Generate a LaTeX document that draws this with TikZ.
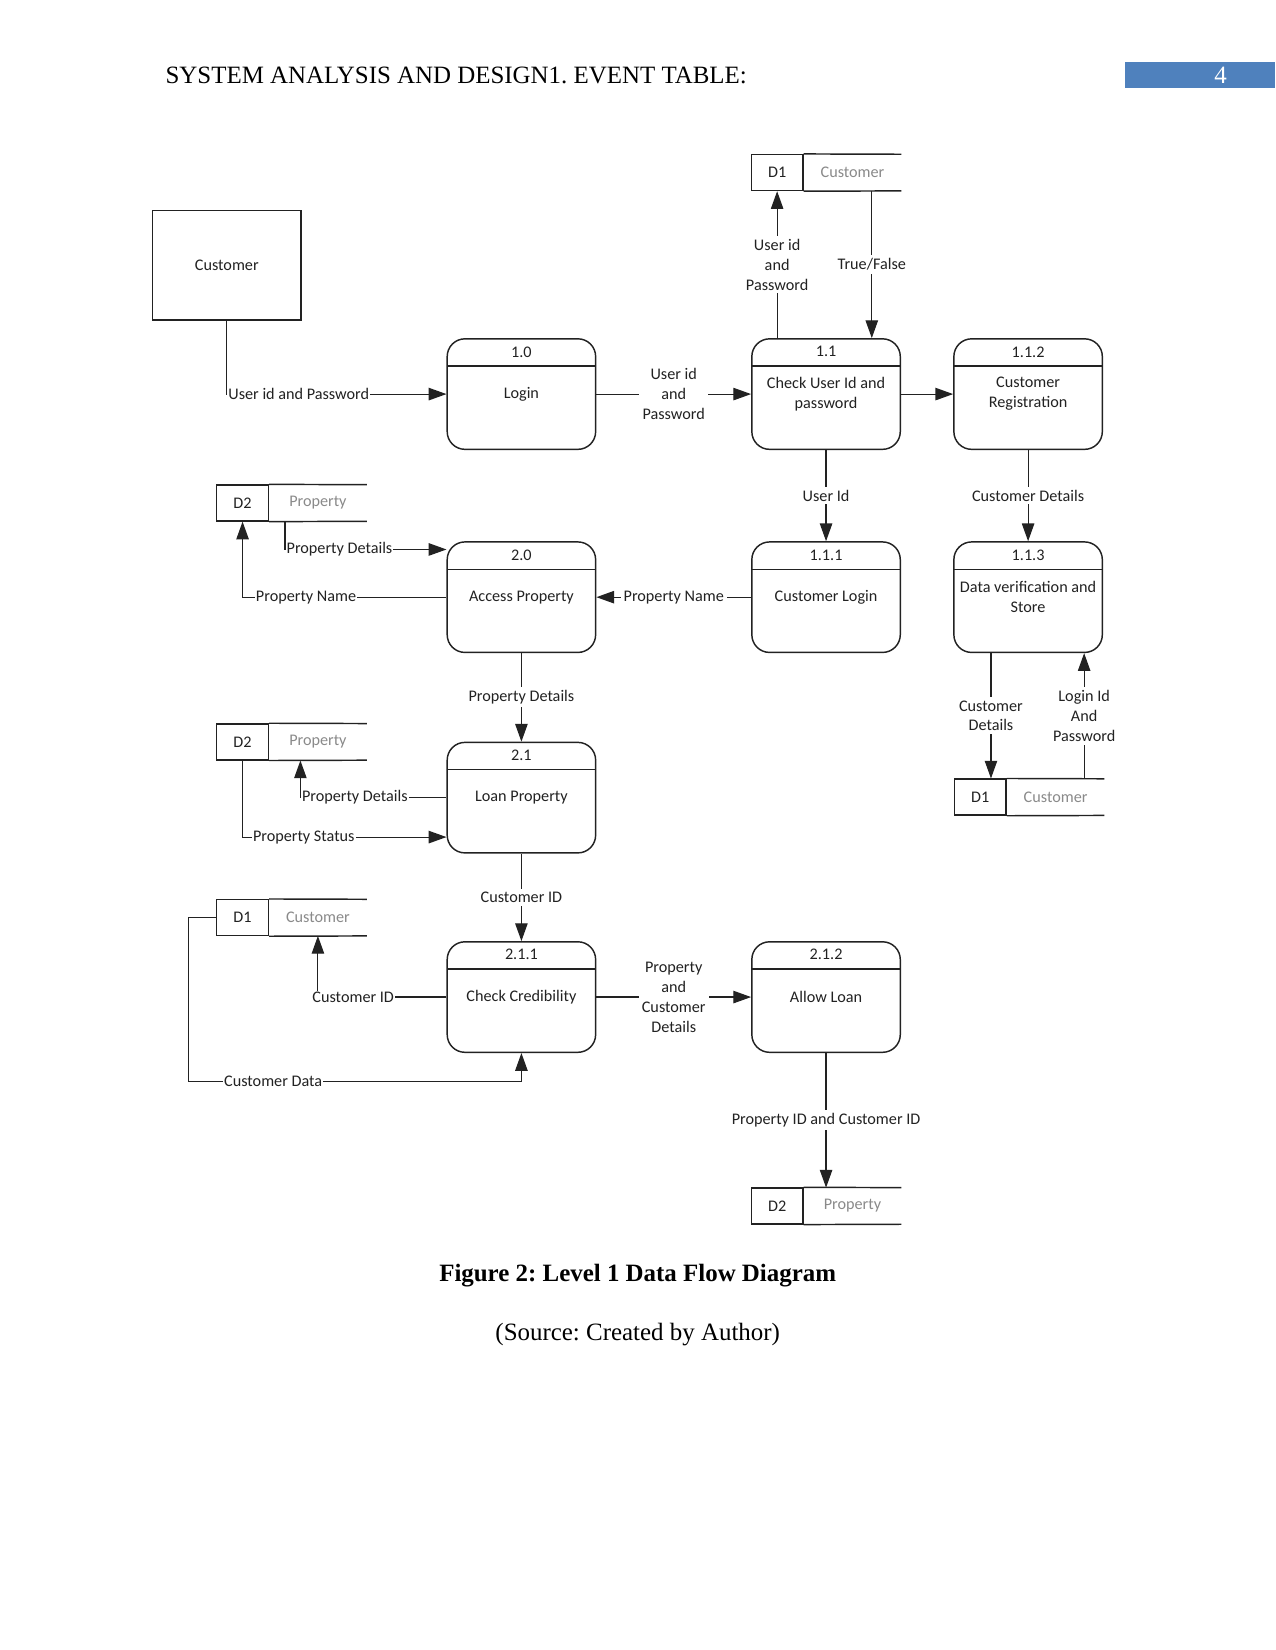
\documentclass[tikz,border=0pt]{standalone}
\usepackage{fontspec}
\setmainfont{Liberation Serif}
\newfontfamily\dfdPolice{Carlito}
\usepackage{xcolor}
\definecolor{dfdEncre}{HTML}{222222}
\definecolor{dfdGris}{HTML}{8A8A8A}
\definecolor{dfdBande}{HTML}{4F81BD}
\usepackage{tikz}
\usetikzlibrary{arrows.meta, positioning, calc}
\frenchspacing
\newcommand{\PetitDfd}{\dfdPolice\fontsize{7.8}{9.6}\selectfont}
\tikzset{
  %% ── Boxes ────────────────────────────────────────────────────────────
  %% A process is a rounded box with a numbered header band; a store is an
  %% id box followed by an open-ended pair of rules.
  processus/.style = {draw=dfdEncre, line width=0.7pt, rounded corners=0.3cm,
                      minimum width=2.512cm, minimum height=1.870cm,
                      align=center, inner sep=2pt, font=\PetitDfd,
                      text=dfdEncre,
                      path picture={\draw[line width=0.7pt]
                        ([yshift=-0.463cm]path picture bounding box.north west) --
                        ([yshift=-0.463cm]path picture bounding box.north east);}},
  numero/.style    = {anchor=center, yshift=-0.232cm, font=\PetitDfd,
                      text=dfdEncre, inner sep=0pt},
  entite/.style    = {draw=dfdEncre, line width=0.7pt, minimum width=2.512cm,
                      minimum height=1.853cm, font=\PetitDfd, text=dfdEncre},
  depotId/.style   = {draw=dfdEncre, line width=0.7pt, minimum width=0.873cm,
                      minimum height=0.606cm, inner sep=0pt, font=\PetitDfd,
                      text=dfdEncre},
  depotNom/.style  = {minimum width=1.639cm, minimum height=0.606cm,
                      inner sep=0pt, font=\PetitDfd, text=dfdGris},
  trait/.style     = {draw=dfdEncre, line width=0.7pt},
  %%
  %% ── Arrows ───────────────────────────────────────────────────────────
  flux/.style      = {-{Triangle[length=3mm, width=2.1mm]}, draw=dfdEncre,
                      line width=0.55pt},
  %%
  %% ── Text ─────────────────────────────────────────────────────────────
  etiquette/.style = {font=\PetitDfd, text=dfdEncre, fill=white,
                      inner sep=1.5pt, align=center},
  entete/.style    = {font=\fontsize{12}{14}\selectfont, inner sep=0pt},
}

\begin{document}
\begin{tikzpicture}[x=0.017813cm, y=-0.017813cm]

\fill[white] (0,0) rectangle (1212,1568);
\useasboundingbox (0,0) rectangle (1212,1568);

%% page header and caption
\node[entete, anchor=base west] (titre) at (157,79)
     {SYSTEM ANALYSIS AND DESIGN1. EVENT TABLE:};
\node[fill=dfdBande, minimum width=2.547cm, minimum height=0.445cm,
      inner sep=0pt] (bande) at (1140.5,71.5) {};
\node[entete, text=white] (numPage) at (1160,71.5) {4};
\node[entete, font=\fontsize{12}{14}\selectfont\bfseries] (legende) at (606,1212)
     {Figure 2: Level 1 Data Flow Diagram};
\node[entete] (source) at (606,1268) {(Source: Created by Author)};

%% external entity and processes
\node[entite] (cust) at (215.5,252) {Customer};
\node[processus, label={[numero]north:1.0}]   (p10)  at (495.5,374.5) {Login};
\node[processus, label={[numero]north:1.1}]   (p11)  at (785,374.5) {Check User Id and\\password};
\node[processus, label={[numero]north:1.1.2}] (p112) at (977,374.5) {Customer\\Registration};
\node[processus, label={[numero]north:1.1.1}] (p111) at (785,567.5) {Customer Login};
\node[processus, label={[numero]north:1.1.3}] (p113) at (977,567.5) {Data verification and\\Store};
\node[processus, label={[numero]north:2.0}]   (p20)  at (495.5,567.5) {Access Property};
\node[processus, label={[numero]north:2.1}]   (p21)  at (495.5,758) {Loan Property};
\node[processus, label={[numero]north:2.1.1}] (p211) at (495.5,947.5) {Check Credibility};
\node[processus, label={[numero]north:2.1.2}] (p212) at (785,947.5) {Allow Loan};

%% data stores
\node[depotId] (d1a) at (738.5,164) {D1};
\node[depotNom, right=0pt of d1a] (d1a-n) {Customer};
\node[depotId] (d2a) at (230.5,478) {D2};
\node[depotNom, right=0pt of d2a] (d2a-n) {Property};
\node[depotId] (d2b) at (230.5,705) {D2};
\node[depotNom, right=0pt of d2b] (d2b-n) {Property};
\node[depotId] (d1b) at (931.5,757.5) {D1};
\node[depotNom, right=0pt of d1b] (d1b-n) {Customer};
\node[depotId] (d1c) at (230.5,872) {D1};
\node[depotNom, right=0pt of d1c] (d1c-n) {Customer};
\node[depotId] (d2c) at (738.5,1146) {D2};
\node[depotNom, right=0pt of d2c] (d2c-n) {Property};
\foreach \d in {d1a,d2a,d2b,d1b,d1c,d2c}
  \draw[trait] (\d.north east) -- (\d-n.north east) (\d.south east) -- (\d-n.south east);

%% login branch
\draw[flux] (cust.south) |- (p10.west)
     node[etiquette, pos=0.5, anchor=west, inner sep=0.5pt] {User id and Password};
\draw[flux] (p10) -- node[etiquette] {User id\\and\\Password} (p11);
\draw[flux] (p11.north -| d1a) -- node[etiquette] {User id\\and\\Password} (d1a);
\draw[flux] ([xshift=-0.5cm]d1a-n.south east) -- ([xshift=-0.5cm]d1a-n.south east |- p11.north)
     node[etiquette, midway] {True/False};
\draw[flux] (p11) -- (p112);
\draw[flux] (p11) -- node[etiquette] {User Id} (p111);
\draw[flux] (p112) -- node[etiquette] {Customer Details} (p113);
\draw[flux] ([xshift=0.64cm]p113.south west) -- ([xshift=0.64cm]p113.south west |- d1b.north)
     node[etiquette, midway] {Customer\\Details};
\draw[flux] ([xshift=-0.32cm]p113.south east |- d1b-n.north) -- ([xshift=-0.32cm]p113.south east)
     node[etiquette, midway] {Login Id\\And\\Password};

%% property branch
\draw[flux] ([xshift=0.27cm]d2a.south east) |- ([yshift=-0.14cm]p20.north west)
     node[etiquette, pos=0.5, anchor=west, inner sep=0.5pt] {Property Details};
\draw[flux] (p20.west) -| (d2a.south)
     node[etiquette, pos=0.5, anchor=west, xshift=0.2cm, inner sep=0.5pt] {Property Name};
\draw[flux] (p111) -- node[etiquette] {Property Name} (p20);
\draw[flux] (p20) -- node[etiquette] {Property Details} (p21);
\draw[flux] (p21.west) -| ([xshift=0.53cm]d2b.south east)
     node[etiquette, pos=0.5, anchor=west, inner sep=0.5pt] {Property Details};
\draw[flux] (d2b.south) |- ([yshift=0.28cm]p21.south west)
     node[etiquette, pos=0.5, anchor=west, xshift=0.15cm, inner sep=0.5pt] {Property Status};
\draw[flux] (p21) -- node[etiquette] {Customer ID} (p211);
\draw[flux] (p211.west) -| (d1c-n.south)
     node[etiquette, pos=0.5, anchor=west, xshift=-0.12cm, inner sep=0.5pt] {Customer ID};
\coordinate (coude) at ([xshift=-0.46cm]d1c.west);
\draw[flux] (d1c.west) -- (coude) |- ([yshift=-0.48cm]p211.south)
     node[etiquette, pos=0.5, anchor=west, xshift=0.57cm, inner sep=0.5pt] {Customer Data}
     -- (p211.south);
\draw[flux] (p211) -- node[etiquette] {Property\\and\\Customer\\Details} (p212);
\draw[flux] (p212.south) -- (p212.south |- d2c-n.north)
     node[etiquette, midway] {Property ID and Customer ID};

\end{tikzpicture}
\end{document}
